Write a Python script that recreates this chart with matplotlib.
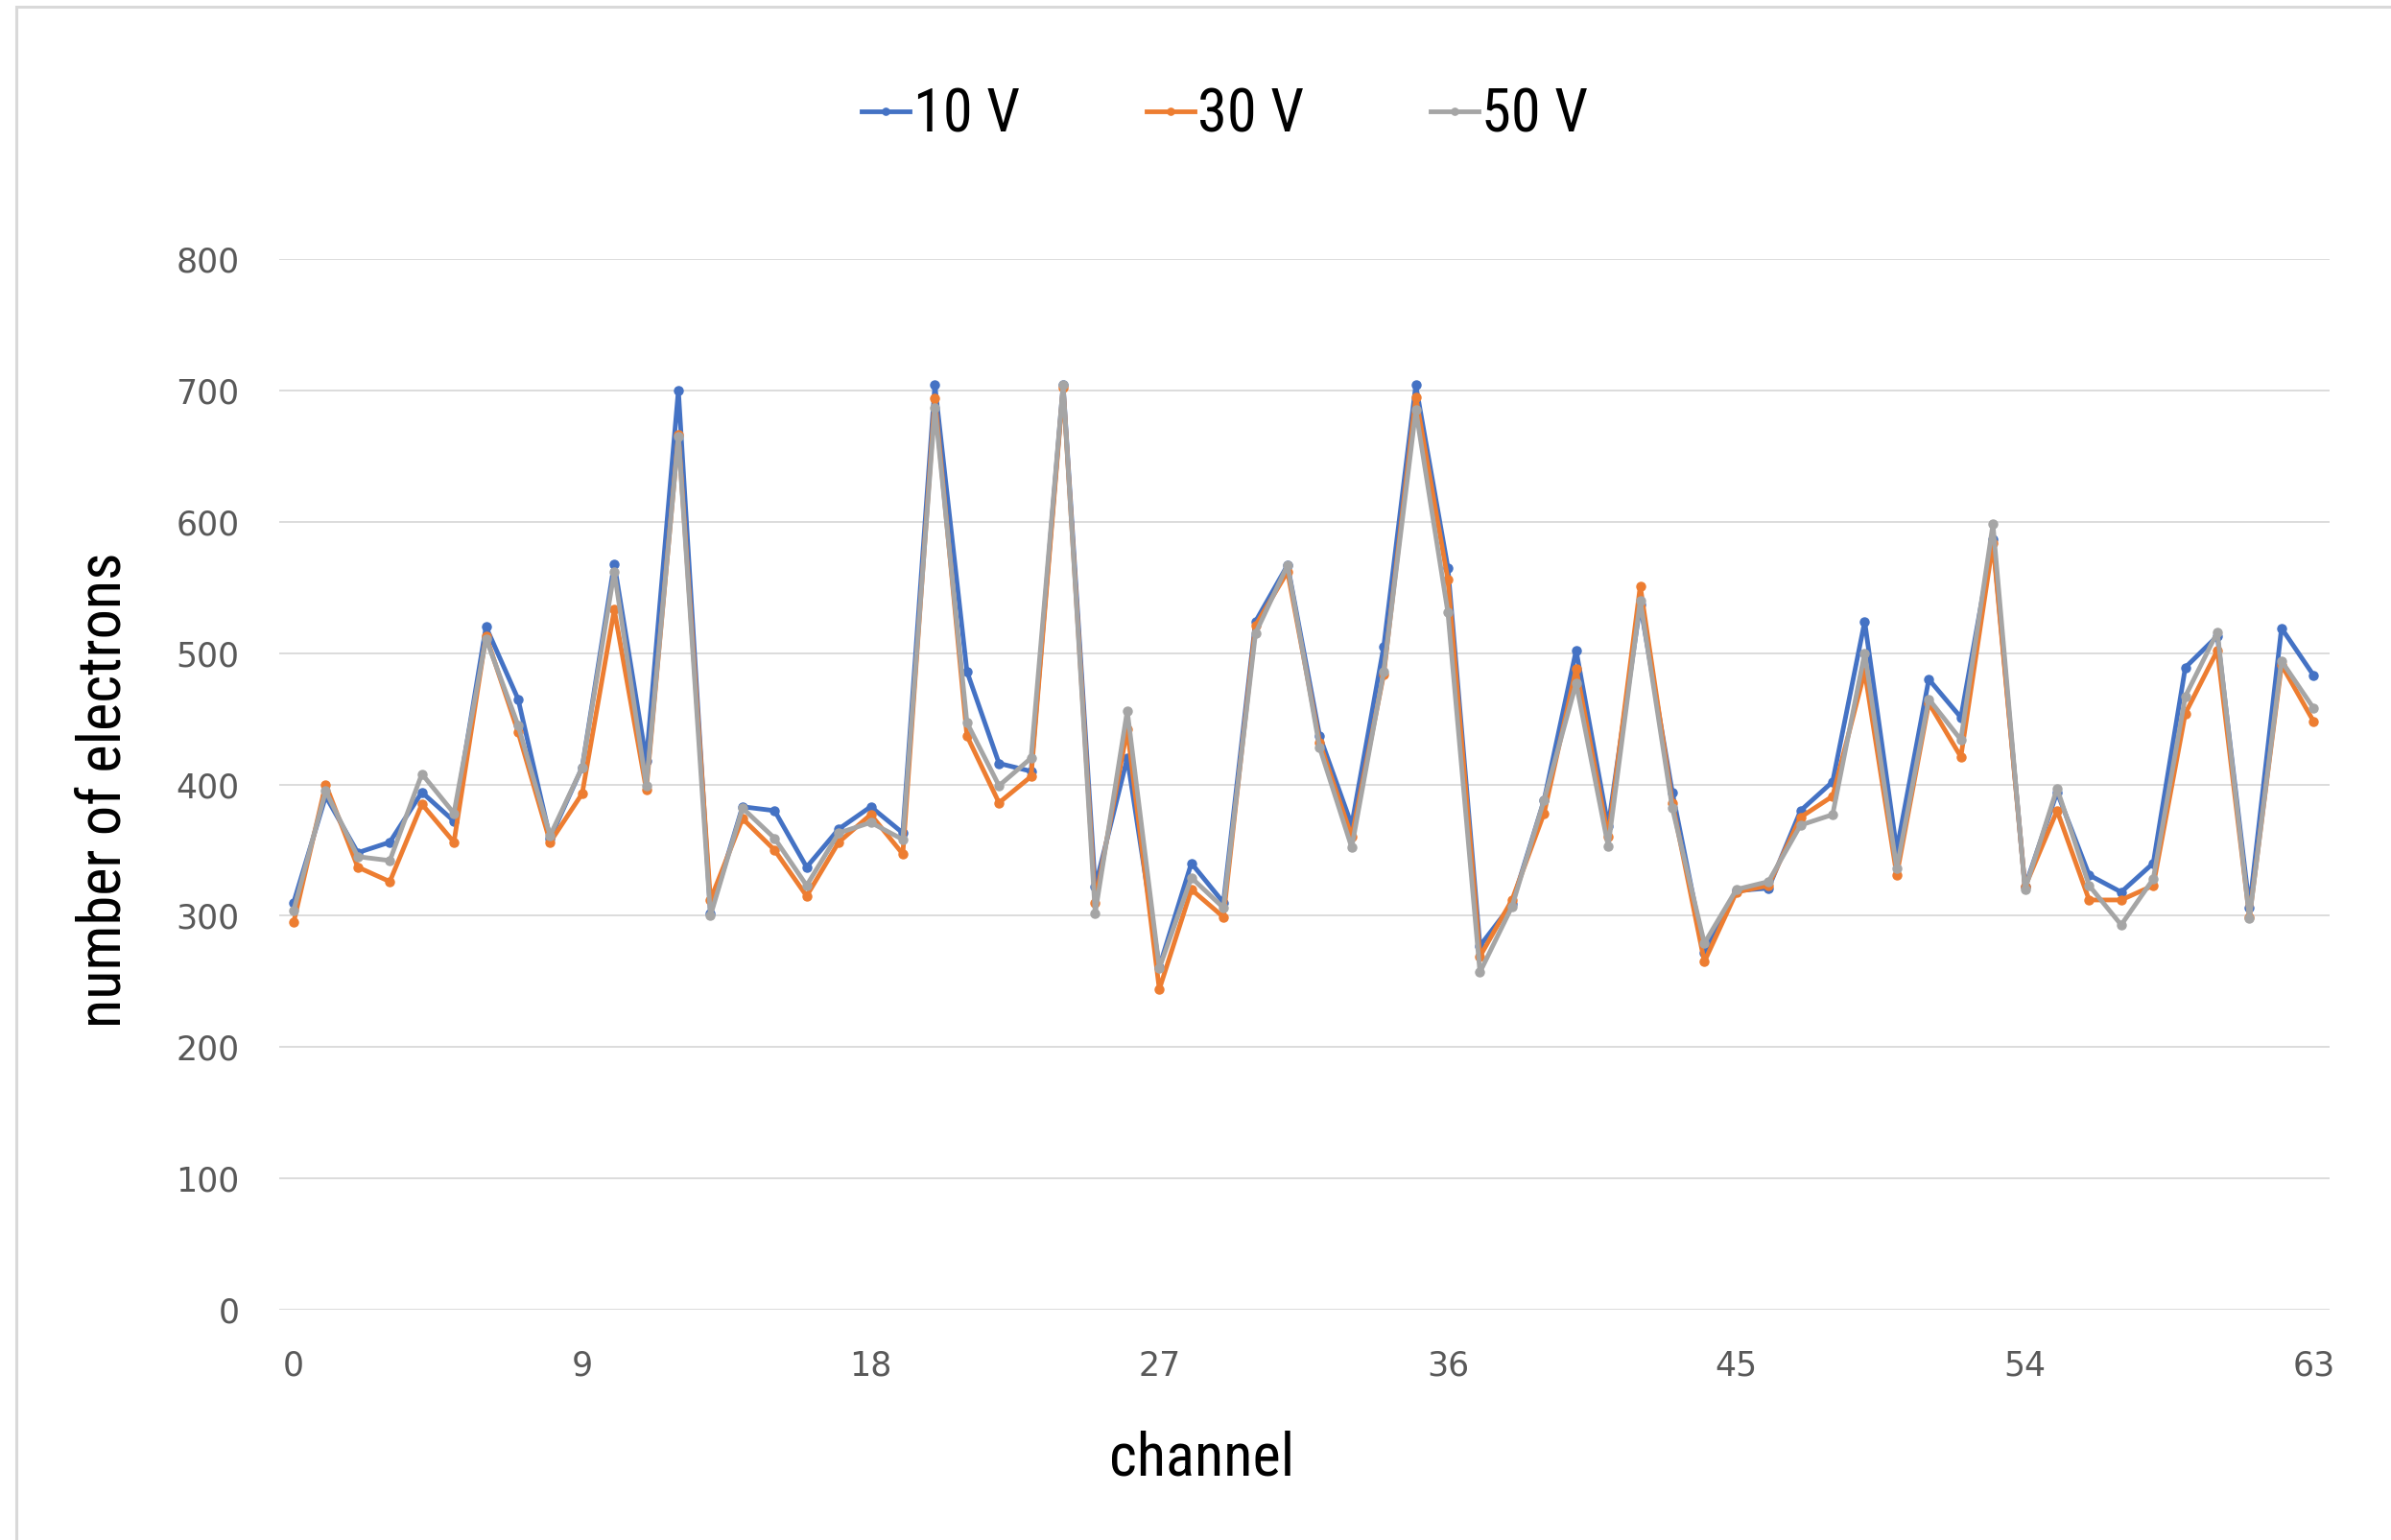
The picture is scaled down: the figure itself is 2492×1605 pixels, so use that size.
import matplotlib
matplotlib.use("Agg")
import matplotlib.pyplot as plt
from matplotlib.patches import Rectangle
from matplotlib import font_manager

channels = list(range(64))
v10 = [310, 391, 348, 356, 394, 372, 520, 465, 359, 413,
       568, 418, 700, 302, 383, 380, 337, 366, 383, 363,
       704, 486, 416, 410, 704, 322, 420, 261, 340, 310,
       524, 567, 437, 369, 505, 704, 565, 277, 309, 388,
       502, 368, 537, 394, 272, 319, 321, 380, 402, 524,
       350, 480, 451, 587, 322, 394, 331, 318, 340, 489,
       513, 306, 519, 483]
v30 = [295, 400, 337, 326, 385, 356, 513, 440, 356, 393,
       533, 396, 666, 312, 374, 350, 315, 356, 377, 347,
       694, 437, 386, 406, 702, 310, 442, 244, 320, 299,
       521, 562, 432, 360, 484, 695, 556, 269, 312, 378,
       488, 360, 551, 386, 265, 318, 323, 375, 391, 486,
       331, 462, 421, 584, 322, 380, 312, 312, 323, 454,
       502, 299, 491, 448]
v50 = [304, 395, 345, 342, 408, 378, 511, 445, 361, 413,
       562, 399, 665, 300, 382, 359, 323, 363, 371, 358,
       687, 447, 399, 420, 704, 302, 456, 260, 329, 306,
       515, 567, 428, 352, 486, 685, 531, 257, 307, 388,
       477, 353, 540, 382, 279, 320, 326, 369, 377, 500,
       336, 465, 434, 598, 320, 397, 323, 293, 328, 467,
       516, 298, 494, 458]
series_names = ["10 V", "30 V", "50 V"]
series_colors = ["#4472C4", "#ED7D31", "#A5A5A5"]
xticks = [0, 9, 18, 27, 36, 45, 54, 63]
yticks = [0, 100, 200, 300, 400, 500, 600, 700, 800]

installed = {f.name for f in font_manager.fontManager.ttflist}
label_font = [f for f in ["DejaVu Sans Condensed", "Liberation Sans Narrow",
                          "Roboto Condensed", "Open Sans Condensed"]
              if f in installed] + ["DejaVu Sans"]

W, H = 2492, 1605
fig = plt.figure(figsize=(W / 100, H / 100), dpi=100)
fig.patch.set_facecolor("white")

# outer chart border (left and top visible)
fig.add_artist(Rectangle((17 / W, -0.1), 1.2, 1.1 - 7 / H,
                         transform=fig.transFigure, fill=False,
                         edgecolor="#D9D9D9", linewidth=2.2))

ax = fig.add_axes([291 / W, 1 - 1365 / H, (2428 - 291) / W, (1365 - 270) / H])
for vals, name, col in zip([v10, v30, v50], series_names, series_colors):
    ax.plot(channels, vals, color=col, linewidth=3.5, marker="o",
            markersize=6.5, label=name, solid_joinstyle="round")

ax.set_xlim(-0.45, 63.5)
ax.set_ylim(0, 800)
ax.set_xticks(xticks)
ax.set_yticks(yticks)
ax.yaxis.grid(True, color="#D9D9D9", linewidth=1.3)
ax.set_axisbelow(True)
for s in ax.spines.values():
    s.set_visible(False)
ax.tick_params(axis="both", length=0, labelsize=25, labelcolor="#595959")
ax.tick_params(axis="y", pad=30)
ax.tick_params(axis="x", pad=30)

ax.set_ylabel("number of electrons", fontsize=45, family=label_font,
              color="black", ha="center", va="center")
ax.yaxis.set_label_coords(-0.0855, 0.495)
ax.set_xlabel("channel", fontsize=45, family=label_font, color="black",
              ha="center", va="center")
ax.xaxis.set_label_coords(0.45, -0.142)

leg = fig.legend(loc="center", bbox_to_anchor=(1277 / W, 1 - 121 / H), ncol=3,
                 frameon=False, handlelength=0.8, handletextpad=0.06,
                 columnspacing=2.1, prop={"family": label_font, "size": 45},
                 markerscale=0.8)

fig.savefig("out.png", dpi=100)
